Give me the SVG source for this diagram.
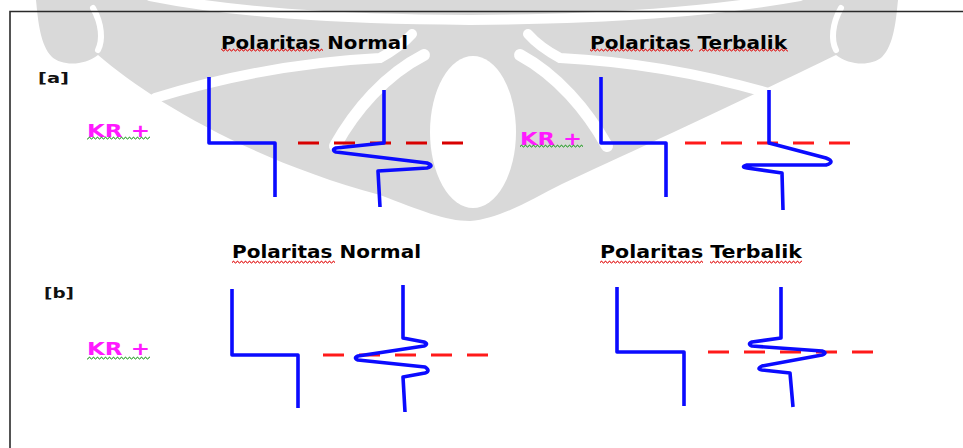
<svg xmlns="http://www.w3.org/2000/svg" width="963" height="448" viewBox="0 0 963 448">
  <defs>
    <style>
      .wm { fill: #d9d9d9; }
      .wmcut { fill: none; stroke: #ffffff; stroke-linecap: round; }
      .frame { fill: none; stroke: #2a2a2a; stroke-width: 1.6; }
      .trace { fill: none; stroke: #0b0bff; stroke-width: 3.6; stroke-linejoin: round; stroke-linecap: butt; }
      .kr { fill: none; stroke: #ff1a1a; stroke-width: 3; stroke-dasharray: 21 15; }
      .title { font-family: "DejaVu Sans", "Liberation Sans", sans-serif; font-weight: bold; font-size: 18px; fill: #000000; }
      .tag { font-family: "DejaVu Sans", "Liberation Sans", sans-serif; font-weight: bold; font-size: 14px; fill: #111111; }
      .krlabel { font-family: "DejaVu Sans", "Liberation Sans", sans-serif; font-weight: bold; font-size: 18px; fill: #ff1aff; }
    </style>
    <!-- spell-check style wavy underlines -->
    <pattern id="waveRed" width="4" height="4" patternUnits="userSpaceOnUse">
      <path d="M0,3 L1,1.2 L2,1.2 L3,3 L4,3" fill="none" stroke="#e00000" stroke-width="0.9"/>
    </pattern>
    <pattern id="waveGreen" width="4" height="4" patternUnits="userSpaceOnUse">
      <path d="M0,3 L1,1.2 L2,1.2 L3,3 L4,3" fill="none" stroke="#1a9a1a" stroke-width="0.9"/>
    </pattern>
  </defs>

  <rect width="963" height="448" fill="#ffffff"/>

  <!-- background emblem -->
  <g id="emblem">
    <path class="wm" d="M36,0 C38,20 40,45 52,57 C62,66 84,66 98,55 C150,100 250,160 380,195 C420,210 445,221 470,221 C500,219 530,200 562,184 C640,148 760,92 836,55 C850,66 872,66 882,57 C894,45 896,20 898,0 Z"/>
    <!-- smile band near the top -->
    <path class="wmcut" stroke-width="10" d="M150,-4 C230,12 330,19 470,20 C610,19 710,12 800,-4"/>
    <!-- horn separators -->
    <path class="wmcut" stroke-width="6" d="M93,8 C102,24 103,40 98,50"/>
    <path class="wmcut" stroke-width="6" d="M841,8 C832,24 831,40 836,50"/>
    <!-- sweeping leaves -->
    <path class="wmcut" stroke-width="10" d="M155,98 C220,78 300,62 380,58 C395,50 405,42 412,34"/>
    <path class="wmcut" stroke-width="10" d="M785,98 C720,78 640,62 560,58 C545,50 535,42 528,34"/>
    <path class="wmcut" stroke-width="12" d="M335,146 C355,110 385,75 424,55"/>
    <path class="wmcut" stroke-width="12" d="M607,146 C587,110 557,75 520,55"/>
    <!-- centre ring opening -->
    <ellipse cx="473" cy="132" rx="43" ry="76" fill="#ffffff"/>
  </g>

  <!-- frame -->
  <g id="frame">
    <path class="frame" d="M10,448 V11.5 H963"/>
  </g>

  <!-- panel labels -->
  <g id="label-a"><text class="tag" x="38" y="83" textLength="31" lengthAdjust="spacingAndGlyphs">[a]</text></g>
  <g id="label-b"><text class="tag" x="44" y="298" textLength="30" lengthAdjust="spacingAndGlyphs">[b]</text></g>

  <!-- (a) normal polarity -->
  <g id="a-normal">
    <text class="title" x="221" y="49" textLength="187" lengthAdjust="spacingAndGlyphs">Polaritas Normal</text>
    <rect x="221" y="48" width="102" height="4" fill="url(#waveRed)"/>
    <text class="krlabel" x="87" y="137" textLength="63" lengthAdjust="spacingAndGlyphs">KR +</text>
    <rect x="87" y="136" width="63" height="4" fill="url(#waveGreen)"/>
    <path class="trace" d="M209,77 V143 H275 V197"/>
    <path class="kr" style="stroke:#d80000" d="M298,143 H470"/>
    <path class="trace" d="M384,90 V143 L336,148 Q331,150 336,152 L427,163 Q435,166 427,168 L378,171 L380,207"/>
  </g>

  <!-- (a) reversed polarity -->
  <g id="a-reversed">
    <text class="title" x="590" y="49" textLength="197" lengthAdjust="spacingAndGlyphs">Polaritas Terbalik</text>
    <rect x="590" y="48" width="103" height="4" fill="url(#waveRed)"/>
    <rect x="699" y="48" width="89" height="4" fill="url(#waveRed)"/>
    <text class="krlabel" x="520" y="145" textLength="62" lengthAdjust="spacingAndGlyphs">KR +</text>
    <rect x="520" y="144" width="63" height="4" fill="url(#waveGreen)"/>
    <path class="trace" d="M601,77 V143 H666 V197"/>
    <path class="kr" d="M685,143 H854"/>
    <path class="trace" d="M769,90 V143 L826,158 Q836,162 826,165 L747,165 Q740,167 747,168 L782,173 L783,210"/>
  </g>

  <!-- (b) normal polarity -->
  <g id="b-normal">
    <text class="title" x="232" y="258" textLength="189" lengthAdjust="spacingAndGlyphs">Polaritas Normal</text>
    <rect x="232" y="260" width="103" height="4" fill="url(#waveRed)"/>
    <text class="krlabel" x="87" y="355" textLength="63" lengthAdjust="spacingAndGlyphs">KR +</text>
    <rect x="87" y="356" width="63" height="4" fill="url(#waveGreen)"/>
    <path class="trace" d="M232,289 V355 H298 V408"/>
    <path class="kr" d="M323,355 H492"/>
    <path class="trace" d="M403,285 V338 L424,342 Q429,344 424,346 L358,356 Q353,358 358,360 L425,367 Q431,371 425,373 L403,377 L405,412"/>
  </g>

  <!-- (b) reversed polarity -->
  <g id="b-reversed">
    <text class="title" x="600" y="258" textLength="202" lengthAdjust="spacingAndGlyphs">Polaritas Terbalik</text>
    <rect x="600" y="260" width="103" height="4" fill="url(#waveRed)"/>
    <rect x="710" y="260" width="92" height="4" fill="url(#waveRed)"/>
    <path class="trace" d="M617,287 V352 H684 V406"/>
    <path class="kr" d="M708,352 H876"/>
    <path class="trace" d="M781,287 V338 L752,342 Q747,344 752,346 L822,351 Q828,353 822,355 L762,366 Q756,369 762,370 L790,373 L793,407"/>
  </g>
</svg>
